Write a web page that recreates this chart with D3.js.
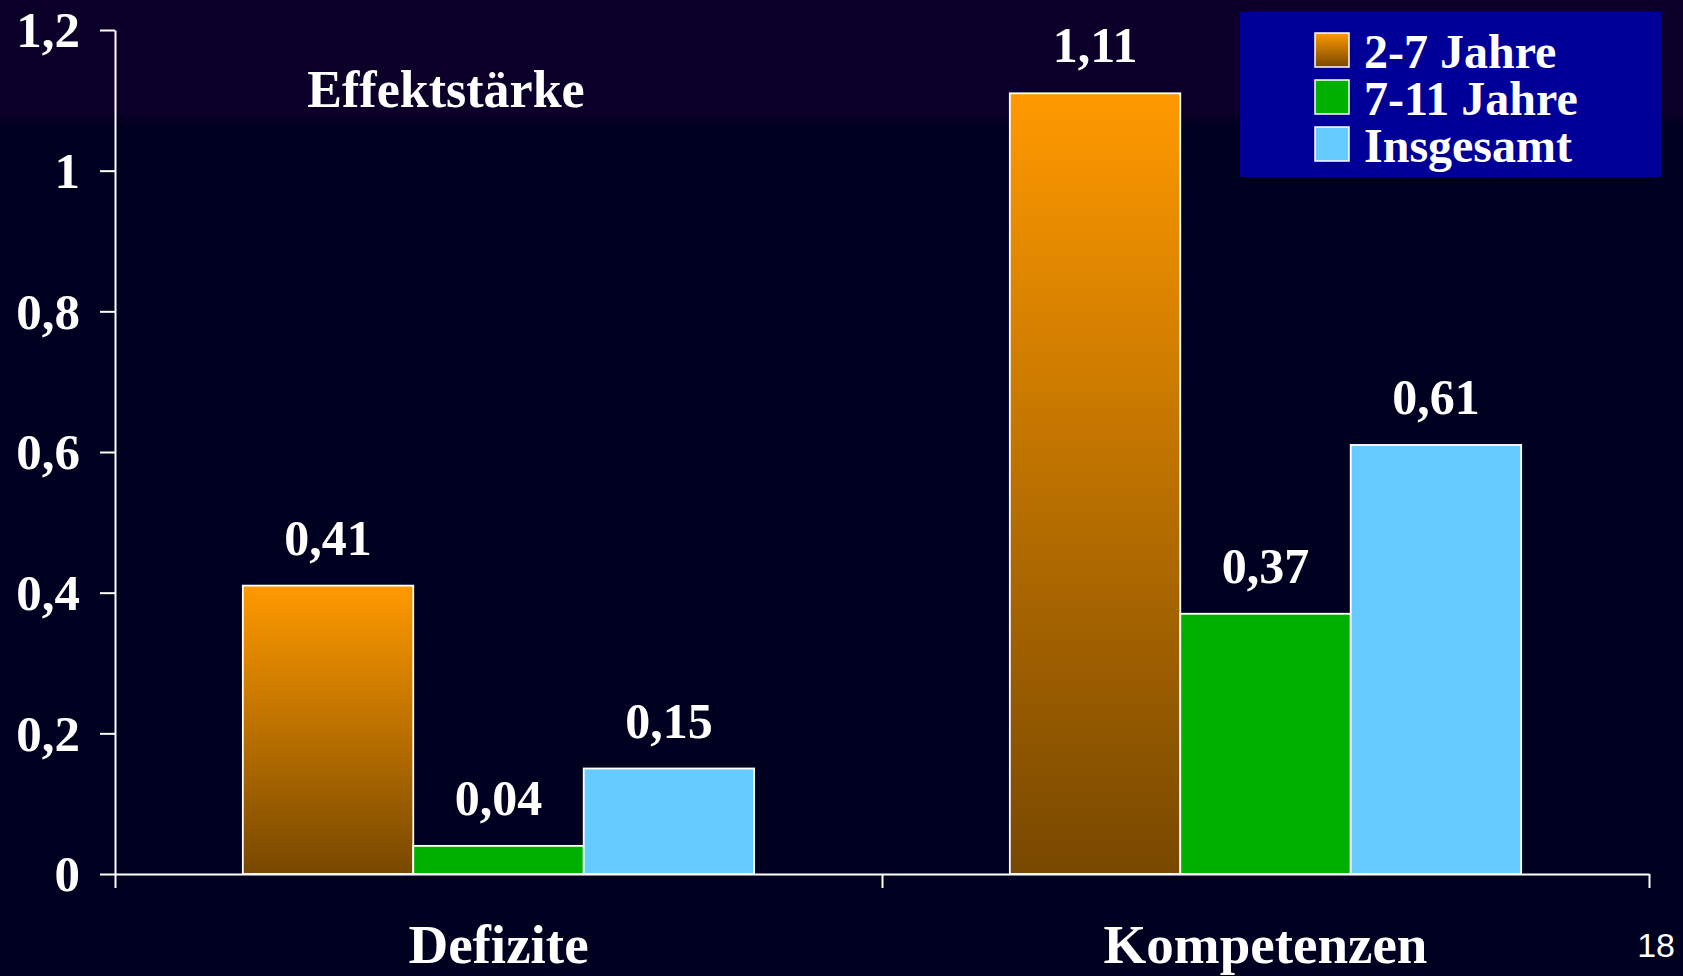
<!DOCTYPE html>
<html><head><meta charset="UTF-8">
<script src="https://cdn.jsdelivr.net/npm/d3@7/dist/d3.min.js"></script>
<style>
body{margin:0;background:#000020;overflow:hidden}
svg{display:block}
text{font-family:"Liberation Serif","DejaVu Serif",serif;font-weight:bold;fill:#fff}
</style></head><body><div id="chart"></div>
<script>
const categories = ['Defizite', 'Kompetenzen'];
const series = ['2-7 Jahre', '7-11 Jahre', 'Insgesamt'];
const jahre2bis7 = [0.41, 1.11];
const jahre7bis11 = [0.04, 0.37];
const insgesamt = [0.15, 0.61];
const yTicks = [0, 0.2, 0.4, 0.6, 0.8, 1, 1.2];
const yTickLabels = ['0', '0,2', '0,4', '0,6', '0,8', '1', '1,2'];

const W = 1683, H = 976;
const fmt = v => String(v).replace('.', ',');
const values = [jahre2bis7, jahre7bis11, insgesamt];
const fills = ['url(#orange)', '#00b000', '#66ccff'];

const svg = d3.select('#chart').append('svg').attr('width', W).attr('height', H);
const defs = svg.append('defs');

const bg = defs.append('linearGradient').attr('id', 'bg').attr('x1', 0).attr('y1', 0).attr('x2', 0).attr('y2', 1);
bg.append('stop').attr('offset', 0).attr('stop-color', '#0c002a');
bg.append('stop').attr('offset', 0.115).attr('stop-color', '#0c002a');
bg.append('stop').attr('offset', 0.13).attr('stop-color', '#000020');
bg.append('stop').attr('offset', 1).attr('stop-color', '#000020');

const og = defs.append('linearGradient').attr('id', 'orange').attr('x1', 0).attr('y1', 0).attr('x2', 0).attr('y2', 1);
og.append('stop').attr('offset', 0).attr('stop-color', '#ff9900');
og.append('stop').attr('offset', 1).attr('stop-color', '#784800');

svg.append('rect').attr('width', W).attr('height', H).attr('fill', 'url(#bg)');

const plotLeft = 115, plotRight = 1649, plotTop = 30, plotBottom = 874;

const x0 = d3.scaleBand().domain(categories).range([plotLeft, plotRight]).padding(0);
const x1 = d3.scaleBand().domain(series).range([x0.bandwidth() / 6, x0.bandwidth() * 5 / 6]).padding(0);
const y = d3.scaleLinear().domain([0, 1.2]).range([plotBottom, plotTop]);

// bars
const groups = svg.append('g').selectAll('g').data(categories).join('g')
  .attr('transform', d => `translate(${x0(d)},0)`);

series.forEach((s, si) => {
  groups.append('rect')
    .attr('x', x1(s))
    .attr('y', (d, ci) => y(values[si][ci]))
    .attr('width', x1.bandwidth())
    .attr('height', (d, ci) => y(0) - y(values[si][ci]))
    .attr('fill', fills[si])
    .attr('stroke', '#fff').attr('stroke-width', 1.8);
  groups.append('text')
    .attr('x', x1(s) + x1.bandwidth() / 2)
    .attr('y', (d, ci) => y(values[si][ci]) - 31)
    .attr('text-anchor', 'middle').attr('font-size', 50)
    .text((d, ci) => fmt(values[si][ci]));
});

// y axis
const yAxis = svg.append('g').attr('transform', `translate(${plotLeft},0)`)
  .call(d3.axisLeft(y).tickValues(yTicks).tickFormat((d, i) => yTickLabels[i]).tickSize(15).tickSizeOuter(0).tickPadding(20));
yAxis.select('.domain').attr('stroke', '#fff').attr('stroke-width', 2);
yAxis.selectAll('line').attr('stroke', '#fff').attr('stroke-width', 2);
yAxis.selectAll('text').attr('font-size', 51).attr('fill', '#fff').attr('dy', '0.33em')
  .attr('font-family', '"Liberation Serif",serif').attr('font-weight', 'bold');

// x axis: ticks at band edges, labels below
const xEdges = d3.scaleLinear().domain([0, categories.length]).range([plotLeft, plotRight]);
const xAxis = svg.append('g').attr('transform', `translate(0,${plotBottom})`)
  .call(d3.axisBottom(xEdges).tickValues(d3.range(categories.length + 1)).tickFormat('').tickSize(14).tickSizeOuter(0));
xAxis.select('.domain').attr('stroke', '#fff').attr('stroke-width', 2);
xAxis.selectAll('line').attr('stroke', '#fff').attr('stroke-width', 2);

svg.append('g').selectAll('text').data(categories).join('text')
  .attr('x', d => x0(d) + x0.bandwidth() / 2)
  .attr('y', 963)
  .attr('text-anchor', 'middle').attr('font-size', 55)
  .text(d => d);

svg.append('text').attr('x', 446).attr('y', 107).attr('text-anchor', 'middle')
  .attr('font-size', 52).text('Effektstärke');

// legend
const lg = svg.append('g').attr('transform', 'translate(1240,12)');
lg.append('rect').attr('width', 421).attr('height', 165).attr('fill', '#000099');
const rows = lg.selectAll('g').data(series).join('g')
  .attr('transform', (d, i) => `translate(0,${i * 47})`);
rows.append('rect').attr('x', 75).attr('y', 21).attr('width', 34).attr('height', 34)
  .attr('fill', (d, i) => fills[i]).attr('stroke', '#fff').attr('stroke-width', 1.5);
rows.append('text').attr('x', 124).attr('y', 56).attr('font-size', 48).text(d => d);

// slide number
svg.append('text').attr('x', 1675).attr('y', 957).attr('text-anchor', 'end')
  .style('font-size', '34px').style('font-weight', 'normal')
  .style('font-family', '"Liberation Sans",Arial,sans-serif').text('18');
</script></body></html>
